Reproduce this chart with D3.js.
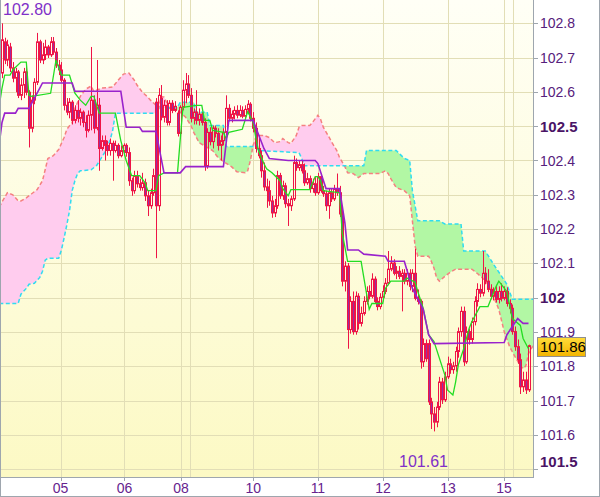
<!DOCTYPE html>
<html><head><meta charset="utf-8">
<script src="https://cdn.jsdelivr.net/npm/d3@7/dist/d3.min.js"></script>
<style>html,body{margin:0;padding:0;background:#fff;}svg{display:block;font-family:"Liberation Sans",Arial,sans-serif;}</style>
</head><body>
<svg id="c" width="600" height="497"></svg>
<script>
// ---- data (hourly candles, index 0..195) ----
const open = [102.655,102.746,102.693,102.731,102.670,102.640,102.658,102.590,102.620,102.658,
102.599,102.494,102.576,102.628,102.746,102.693,102.708,102.731,102.708,102.746,
102.716,102.678,102.664,102.634,102.561,102.541,102.570,102.517,102.546,102.523,
102.541,102.511,102.488,102.532,102.576,102.494,102.561,102.435,102.458,102.444,
102.429,102.450,102.429,102.444,102.414,102.429,102.444,102.423,102.341,102.312,
102.356,102.332,102.321,102.335,102.297,102.268,102.306,102.570,102.268,102.582,
102.526,102.561,102.511,102.567,102.546,102.538,102.479,102.555,102.605,102.623,
102.590,102.523,102.541,102.517,102.535,102.511,102.385,102.482,102.455,102.494,
102.479,102.444,102.458,102.482,102.552,102.523,102.535,102.546,102.532,102.546,
102.529,102.549,102.564,102.523,102.494,102.435,102.414,102.370,102.323,102.312,
102.282,102.247,102.268,102.356,102.297,102.326,102.274,102.268,102.288,102.394,
102.379,102.388,102.370,102.335,102.347,102.318,102.332,102.306,102.353,102.312,
102.303,102.268,102.306,102.288,102.318,102.306,102.244,102.048,102.092,101.907,
101.989,101.901,102.004,101.925,101.954,101.989,102.018,102.004,102.054,101.989,
101.974,102.001,102.018,102.042,102.083,102.101,102.071,102.077,102.062,102.071,
102.048,102.071,102.033,102.071,101.998,101.989,101.813,101.866,101.866,101.696,
101.661,101.637,101.681,101.754,101.702,101.769,101.807,101.790,101.801,101.843,
101.901,101.960,101.813,101.901,101.878,101.930,101.989,102.024,102.013,102.071,
102.048,102.024,102.004,102.018,101.995,102.018,101.998,102.018,101.983,101.969,
101.901,101.857,101.819,101.740,101.760,101.731];
const close = [102.752,102.693,102.737,102.670,102.640,102.658,102.590,102.620,102.658,102.599,
102.494,102.576,102.628,102.746,102.693,102.708,102.731,102.708,102.746,102.716,
102.678,102.664,102.634,102.561,102.541,102.570,102.517,102.546,102.523,102.541,
102.511,102.488,102.532,102.576,102.494,102.561,102.435,102.458,102.444,102.429,
102.450,102.429,102.444,102.414,102.429,102.444,102.423,102.341,102.312,102.356,
102.332,102.321,102.335,102.297,102.268,102.306,102.356,102.268,102.590,102.526,
102.561,102.511,102.567,102.546,102.558,102.479,102.555,102.605,102.623,102.590,
102.523,102.541,102.517,102.535,102.511,102.385,102.482,102.455,102.494,102.479,
102.444,102.458,102.482,102.552,102.523,102.535,102.546,102.532,102.546,102.529,
102.549,102.564,102.523,102.494,102.435,102.414,102.370,102.323,102.312,102.282,
102.247,102.268,102.356,102.297,102.326,102.274,102.268,102.288,102.394,102.379,
102.388,102.370,102.335,102.347,102.318,102.332,102.306,102.353,102.312,102.303,
102.268,102.306,102.288,102.318,102.306,102.244,102.048,102.092,101.907,101.989,
101.901,102.004,101.925,101.954,101.989,102.018,102.004,102.054,101.989,101.974,
102.001,102.018,102.042,102.083,102.101,102.071,102.077,102.062,102.071,102.048,
102.071,102.033,102.071,101.998,101.989,101.813,101.866,101.822,101.696,101.661,
101.637,101.681,101.754,101.702,101.769,101.807,101.790,101.801,101.843,101.901,
101.960,101.813,101.901,101.878,101.930,101.989,102.024,102.013,102.071,102.048,
102.024,102.004,102.018,101.995,102.018,101.998,102.018,101.983,101.969,101.901,
101.857,101.819,101.740,101.760,101.731,101.860];
const high = [102.800,102.758,102.752,102.743,102.687,102.670,102.664,102.640,102.670,102.675,
102.605,102.590,102.640,102.772,102.752,102.743,102.752,102.737,102.760,102.760,
102.728,102.693,102.687,102.640,102.582,102.582,102.576,102.561,102.576,102.552,
102.546,102.532,102.546,102.731,102.590,102.693,102.582,102.473,102.473,102.458,
102.464,102.458,102.458,102.450,102.444,102.450,102.450,102.438,102.350,102.370,
102.370,102.347,102.364,102.347,102.312,102.318,102.376,102.582,102.611,102.620,
102.576,102.576,102.576,102.576,102.573,102.546,102.561,102.634,102.655,102.649,
102.611,102.552,102.605,102.552,102.541,102.523,102.494,102.497,102.502,102.502,
102.494,102.473,102.494,102.590,102.564,102.546,102.558,102.561,102.561,102.558,
102.561,102.576,102.570,102.541,102.511,102.473,102.429,102.394,102.347,102.341,
102.297,102.288,102.370,102.364,102.341,102.335,102.288,102.297,102.414,102.406,
102.400,102.400,102.391,102.364,102.356,102.347,102.353,102.364,102.362,102.326,
102.312,102.318,102.318,102.329,102.362,102.326,102.259,102.106,102.101,102.004,
102.018,102.018,102.013,101.974,102.004,102.033,102.036,102.071,102.062,102.001,
102.013,102.036,102.057,102.136,102.121,102.112,102.092,102.092,102.083,102.083,
102.083,102.083,102.083,102.142,102.024,101.995,101.881,101.878,101.878,101.708,
101.681,101.696,101.769,101.766,101.784,101.828,101.822,101.813,101.857,101.913,
101.974,101.974,101.916,101.910,101.942,102.004,102.042,102.039,102.136,102.089,
102.083,102.039,102.030,102.036,102.033,102.042,102.033,102.030,101.995,101.980,
101.916,101.878,101.837,101.784,101.784,101.863];
const low = [102.640,102.681,102.675,102.658,102.628,102.599,102.582,102.576,102.582,102.590,
102.438,102.482,102.564,102.620,102.684,102.681,102.693,102.699,102.702,102.708,
102.670,102.649,102.628,102.546,102.532,102.523,102.505,102.508,102.511,102.502,
102.497,102.467,102.482,102.488,102.479,102.488,102.370,102.429,102.400,102.414,
102.414,102.341,102.423,102.406,102.409,102.414,102.411,102.326,102.297,102.303,
102.321,102.312,102.312,102.282,102.238,102.259,102.297,102.115,102.253,102.517,
102.511,102.502,102.502,102.538,102.541,102.470,102.470,102.546,102.567,102.582,
102.511,102.505,102.505,102.502,102.502,102.370,102.376,102.444,102.435,102.467,
102.429,102.400,102.444,102.473,102.514,102.511,102.520,102.523,102.526,102.523,
102.523,102.535,102.514,102.482,102.423,102.406,102.350,102.312,102.262,102.268,
102.233,102.235,102.259,102.288,102.285,102.262,102.209,102.253,102.282,102.370,
102.370,102.362,102.326,102.329,102.306,102.306,102.297,102.300,102.306,102.294,
102.253,102.230,102.279,102.282,102.297,102.235,102.033,102.018,101.851,101.895,
101.892,101.892,101.907,101.916,101.948,101.980,101.995,101.998,101.983,101.963,
101.966,101.989,102.010,102.036,102.077,102.065,102.054,102.054,101.960,102.039,
102.036,102.021,102.016,101.992,101.980,101.793,101.798,101.813,101.687,101.617,
101.610,101.622,101.672,101.690,101.696,101.763,101.778,101.778,101.784,101.825,
101.886,101.801,101.807,101.863,101.866,101.919,101.974,102.001,102.004,102.039,
102.016,101.995,101.992,101.986,101.983,101.989,101.992,101.974,101.954,101.892,
101.845,101.807,101.719,101.725,101.719,101.725];

// conversion line (green)
const tenkanIdx = [-1,0,1,3,4,7,9,10,11,18,20,22,25,27,29,31,33,34,36,42,44,46,48,51,53,54,57,58,60,65,67,72,74,75,77,78,82,83,84,89,91,93,94,95,97,98,100,103,104,106,107,114,116,117,118,119,125,126,128,133,136,137,141,142,144,149,150,153,154,156,158,160,164,165,167,168,169,171,173,174,177,180,183,184,187,189,192,193,195];
const tenkanVal = [102.561,102.611,102.649,102.649,102.664,102.687,102.687,102.590,102.587,102.596,102.693,102.649,102.649,102.596,102.576,102.561,102.587,102.587,102.538,102.538,102.458,102.400,102.356,102.356,102.335,102.312,102.312,102.356,102.364,102.364,102.555,102.561,102.561,102.517,102.517,102.488,102.482,102.464,102.482,102.491,102.543,102.511,102.467,102.429,102.391,102.376,102.364,102.341,102.318,102.297,102.315,102.315,102.353,102.353,102.341,102.312,102.306,102.189,102.106,102.106,101.966,101.983,101.983,102.027,102.048,102.048,102.057,102.045,102.018,101.969,101.892,101.872,101.775,101.731,101.716,101.754,101.804,101.851,101.910,101.930,101.974,101.974,102.033,102.048,102.018,101.939,101.919,101.881,101.851];
// base line (purple)
const kijunIdx = [-1,0,1,5,6,10,15,26,27,44,46,51,52,57,60,66,68,82,84,93,97,99,106,116,117,120,125,127,128,132,134,142,143,149,152,156,158,160,186,187,191,193,195];
const kijunVal = [102.450,102.511,102.538,102.538,102.552,102.552,102.626,102.626,102.602,102.602,102.497,102.497,102.485,102.485,102.364,102.364,102.382,102.382,102.517,102.517,102.435,102.406,102.400,102.400,102.391,102.318,102.318,102.218,102.139,102.139,102.127,102.121,102.106,102.106,102.027,101.966,101.892,101.866,101.869,101.892,101.939,101.925,101.925];
// leading span (salmon dashed)
const spanSIdx = [-1,0,2,4,6,7,9,11,13,15,17,19,21,23,24,26,27,29,31,33,34,37,41,43,45,47,49,50,52,54,55,57,58,59,60,62,64,66,68,70,71,72,73,76,78,80,82,85,87,90,91,92,93,94,95,97,99,101,103,104,106,107,109,110,111,114,115,117,118,119,121,122,124,125,127,128,130,131,132,134,140,142,143,144,146,149,151,152,153,154,158,159,160,161,162,164,166,168,174,176,178,180,182,184,186,188,190,192,193,194,195,196,197];
const spanSVal = [102.264,102.279,102.306,102.300,102.282,102.282,102.291,102.303,102.315,102.341,102.406,102.414,102.432,102.467,102.491,102.511,102.552,102.587,102.608,102.617,102.602,102.611,102.614,102.634,102.652,102.655,102.634,102.620,102.599,102.585,102.576,102.561,102.552,102.587,102.585,102.552,102.552,102.541,102.526,102.502,102.482,102.467,102.452,102.438,102.429,102.409,102.397,102.382,102.367,102.364,102.370,102.400,102.444,102.467,102.473,102.473,102.467,102.452,102.455,102.464,102.452,102.450,102.473,102.497,102.502,102.502,102.511,102.532,102.520,102.497,102.470,102.455,102.429,102.409,102.382,102.364,102.362,102.356,102.350,102.362,102.362,102.370,102.362,102.347,102.321,102.312,102.297,102.224,102.150,102.121,102.121,102.106,102.086,102.057,102.048,102.062,102.074,102.083,102.083,102.071,102.057,102.039,102.004,101.966,101.901,101.857,101.828,101.801,101.793,101.801,101.837,101.851,101.863];
// leading span (cyan dashed)
const spanCIdx = [-1,0,6,7,9,10,12,14,15,16,17,21,22,23,24,25,26,27,28,29,33,35,36,38,40,41,42,57,58,65,66,71,72,76,77,82,83,94,95,110,111,112,134,135,146,149,151,152,154,162,164,170,171,179,182,187,189,197];
const spanCVal = [101.983,101.983,101.983,102.010,102.027,102.039,102.042,102.059,102.077,102.109,102.115,102.115,102.139,102.174,102.212,102.253,102.312,102.341,102.362,102.370,102.373,102.385,102.397,102.423,102.458,102.488,102.538,102.538,102.552,102.555,102.570,102.570,102.541,102.541,102.502,102.502,102.441,102.441,102.429,102.423,102.406,102.385,102.385,102.429,102.429,102.406,102.400,102.312,102.224,102.224,102.215,102.215,102.136,102.136,102.098,102.039,101.995,101.995];

const yTicks = [102.8,102.7,102.6,102.5,102.4,102.3,102.2,102.1,102.0,101.9,101.8,101.7,101.6,101.5];
const boldTicks = [102.5,102.0,101.5];
const dayLabels = ["05","06","08","10","11","12","13","15"];
const dayPos = [21.67,45.37,66.3,93.1,117.0,141.1,165.2,185.9];
const extraGrid = [69.8,189.1];

// ---- layout ----
const plotR = 533, plotB = 477;
const x = d3.scaleLinear().domain([0,195]).range([2,528.5]);
const y = d3.scaleLinear().domain([101.477,102.868]).range([477,0]);
const svg = d3.select('#c');
const defs = svg.append('defs');
const bg = defs.append('linearGradient').attr('id','bg').attr('x1',0).attr('y1',0).attr('x2',0).attr('y2',1);
bg.append('stop').attr('offset','0').attr('stop-color','#fffff6');
bg.append('stop').attr('offset','1').attr('stop-color','#fcf9c4');
const pg = defs.append('linearGradient').attr('id','pl').attr('x1',0).attr('y1',0).attr('x2',0).attr('y2',1);
pg.append('stop').attr('offset','0').attr('stop-color','#ffdc3a');
pg.append('stop').attr('offset','1').attr('stop-color','#f2b400');
defs.append('clipPath').attr('id','plot').append('rect').attr('x',1).attr('y',0).attr('width',plotR-1).attr('height',plotB);

svg.append('rect').attr('width',600).attr('height',497).attr('fill','#fff');
svg.append('rect').attr('x',0).attr('y',0).attr('width',plotR).attr('height',plotB).attr('fill','url(#bg)');

const g = svg.append('g').attr('clip-path','url(#plot)');
// grid
g.selectAll('line.hg').data(yTicks).join('line')
  .attr('x1',0).attr('x2',plotR)
  .attr('y1',d=>Math.round(y(d))+0.5).attr('y2',d=>Math.round(y(d))+0.5)
  .attr('stroke','#e2deb6').attr('stroke-width',1);
g.selectAll('line.vg').data(dayPos.concat(extraGrid)).join('line')
  .attr('y1',0).attr('y2',plotB)
  .attr('x1',d=>Math.round(x(d))+0.5).attr('x2',d=>Math.round(x(d))+0.5)
  .attr('stroke','#e2deb6').attr('stroke-width',1);

// cloud: fill between the two spans, pink where salmon is higher, green where cyan is higher
function valAt(idx, val, t){
  if (t <= idx[0]) return val[0];
  for (let k = 1; k < idx.length; k++){
    if (t <= idx[k]) { const f = (t-idx[k-1])/(idx[k]-idx[k-1]); return val[k-1] + f*(val[k]-val[k-1]); }
  }
  return val[val.length-1];
}
const steps = d3.range(-1, 197.0001, 0.05);
const cloud = steps.map(t => ({t, s: valAt(spanSIdx, spanSVal, t), c: valAt(spanCIdx, spanCVal, t)}));
g.append('path').datum(cloud)
  .attr('d', d3.area().x(d=>x(d.t)).y0(d=>y(d.c)).y1(d=>y(Math.max(d.s,d.c))))
  .attr('fill','#ffccee');
g.append('path').datum(cloud)
  .attr('d', d3.area().x(d=>x(d.t)).y0(d=>y(d.s)).y1(d=>y(Math.max(d.s,d.c))))
  .attr('fill','#b2f7a4');
const line = d3.line();
const S = spanSIdx.map((i,k)=>[x(i),y(spanSVal[k])]);
const C = spanCIdx.map((i,k)=>[x(i),y(spanCVal[k])]);
g.append('path').attr('d',line(S)).attr('fill','none').attr('stroke','#f58080').attr('stroke-width',1.5).attr('stroke-dasharray','4,2.5');
g.append('path').attr('d',line(C)).attr('fill','none').attr('stroke','#30dcf0').attr('stroke-width',1.5).attr('stroke-dasharray','4,2.5');

// candles
const candles = d3.range(open.length).map(i=>({i,o:open[i],h:high[i],l:low[i],c:close[i]}));
const red = '#ef1446';
const cg = g.append('g');
cg.selectAll('path.w').data(candles).join('path')
  .attr('d',d=>{const xc=Math.round(x(d.i))+0.5;const top=y(Math.max(d.o,d.c)),bot=y(Math.min(d.o,d.c));
    return `M${xc},${y(d.h)}V${top}M${xc},${bot}V${y(d.l)}`;})
  .attr('stroke',red).attr('stroke-width',1).attr('fill','none');
cg.selectAll('rect.b').data(candles).join('rect')
  .attr('x',d=>Math.round(x(d.i))-0.5).attr('width',2)
  .attr('y',d=>y(Math.max(d.o,d.c)))
  .attr('height',d=>Math.max(0.6,Math.abs(y(d.o)-y(d.c))))
  .attr('fill',d=>d.c<d.o?'#9a2ca0':'none')
  .attr('stroke',red).attr('stroke-width',1);

// tenkan / kijun
const T = tenkanIdx.map((i,k)=>[x(i),y(tenkanVal[k])]);
const K = kijunIdx.map((i,k)=>[x(i),y(kijunVal[k])]);
g.append('path').attr('d',line(T)).attr('fill','none').attr('stroke','#22dd22').attr('stroke-width',1.3);
g.append('path').attr('d',line(K)).attr('fill','none').attr('stroke','#9922cc').attr('stroke-width',1.6);

// frame
const frame = '#9ea6ae';
svg.append('line').attr('x1',plotR+0.5).attr('x2',plotR+0.5).attr('y1',0).attr('y2',plotB+1).attr('stroke',frame);
svg.append('line').attr('x1',0).attr('x2',plotR+1).attr('y1',plotB+0.5).attr('y2',plotB+0.5).attr('stroke',frame);
svg.append('line').attr('x1',0.5).attr('x2',0.5).attr('y1',0).attr('y2',497).attr('stroke',frame);
svg.append('line').attr('x1',599.5).attr('x2',599.5).attr('y1',0).attr('y2',497).attr('stroke',frame);
svg.append('line').attr('x1',0).attr('x2',600).attr('y1',496.5).attr('y2',496.5).attr('stroke',frame);

// y axis
const fmt = v => Math.abs(v-Math.round(v))<1e-9 ? String(Math.round(v)) : v.toFixed(1);
svg.selectAll('line.yt').data(yTicks).join('line')
  .attr('x1',plotR).attr('x2',plotR+5)
  .attr('y1',d=>Math.round(y(d))+0.5).attr('y2',d=>Math.round(y(d))+0.5).attr('stroke',frame);
svg.selectAll('text.yl').data(yTicks).join('text')
  .attr('x',540).attr('y',d=>Math.min(y(d),462)).attr('dy','0.36em')
  .attr('font-size',d=>boldTicks.includes(d)?15:14)
  .attr('font-weight',d=>boldTicks.includes(d)?'bold':'normal')
  .attr('fill',d=>boldTicks.includes(d)?'#4a1466':'#56207c')
  .text(fmt);

// x axis
svg.selectAll('line.xt').data(dayPos).join('line')
  .attr('x1',d=>Math.round(x(d))+0.5).attr('x2',d=>Math.round(x(d))+0.5)
  .attr('y1',plotB).attr('y2',plotB+4).attr('stroke',frame);
svg.selectAll('text.xl').data(dayLabels).join('text')
  .attr('x',(d,k)=>x(dayPos[k])).attr('y',493).attr('text-anchor','middle')
  .attr('font-size',14).attr('fill','#66238e').text(d=>d);

// high / low annotations
const maxH = d3.max(high), minL = d3.min(low);
svg.append('text').attr('x',3).attr('y',15).attr('font-size',16).attr('fill','#8030c8').text(maxH.toFixed(2));
svg.append('text').attr('x',399).attr('y',467).attr('font-size',16).attr('fill','#8030c8').text(minL.toFixed(2));

// last price box
const last = close[close.length-1];
const ly = y(last);
svg.append('rect').attr('x',537.5).attr('y',Math.round(ly)-8.5).attr('width',48).attr('height',19)
  .attr('fill','url(#pl)').attr('stroke','#8f8f8f').attr('stroke-width',1);
svg.append('text').attr('x',540).attr('y',ly+1).attr('dy','0.36em').attr('font-size',15).attr('fill','#000').text(last.toFixed(2));
</script>
</body></html>
